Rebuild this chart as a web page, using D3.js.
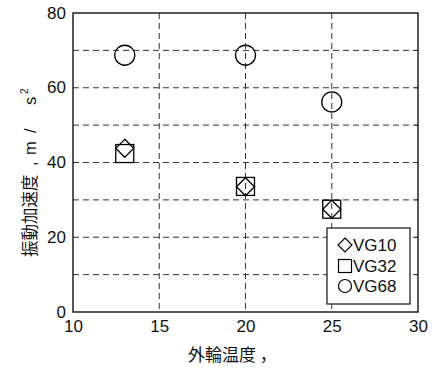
<!DOCTYPE html>
<html><head><meta charset="utf-8">
<script src="https://cdn.jsdelivr.net/npm/d3@7"></script>
<style>body{margin:0;background:#fff}</style>
</head><body>
<svg id="c" width="434" height="369"></svg>
<script>
const temps = [13, 20, 25];
const vg10 = [43.8, 33.5, 27.5];
const vg32 = [42.4, 33.6, 27.5];
const vg68 = [68.7, 68.7, 56.2];
const seriesNames = ["VG10", "VG32", "VG68"];
const xTicks = [10, 15, 20, 25, 30];
const yTicks = [0, 20, 40, 60, 80];
const yGrid = [10, 20, 30, 40, 50, 60, 70];
const xGrid = [15, 20, 25];

const svg = d3.select("#c");
const L = 73, R = 418, T = 13, B = 312;
const x = d3.scaleLinear().domain([10, 30]).range([L, R]);
const y = d3.scaleLinear().domain([0, 80]).range([B, T]);
const font = "'Liberation Sans', Arial, sans-serif";
const cjk = "'Noto Sans CJK JP', 'Liberation Sans', sans-serif";

// grid
svg.append("g").selectAll("line").data(yGrid).join("line")
  .attr("x1", L).attr("x2", R).attr("y1", d => y(d)).attr("y2", d => y(d))
  .attr("stroke", "#333").attr("stroke-width", 1).attr("stroke-dasharray", "6,4");
svg.append("g").selectAll("line").data(xGrid).join("line")
  .attr("y1", T).attr("y2", B).attr("x1", d => x(d)).attr("x2", d => x(d))
  .attr("stroke", "#333").attr("stroke-width", 1).attr("stroke-dasharray", "6,4");

// axes
const ax = svg.append("g").attr("transform", `translate(0,${B})`)
  .call(d3.axisBottom(x).tickValues(xTicks).tickSize(0).tickPadding(8));
const ay = svg.append("g").attr("transform", `translate(${L},0)`)
  .call(d3.axisLeft(y).tickValues(yTicks).tickSize(0).tickPadding(7));
[ax, ay].forEach(g => {
  g.select(".domain").remove();
  g.selectAll("text").attr("font-family", font).attr("font-size", 17).attr("fill", "#111");
});
ay.selectAll("text").attr("dy", "0.3em");
// right-side small inward ticks
svg.append("g").selectAll("line").data(yGrid).join("line")
  .attr("x1", R - 3).attr("x2", R).attr("y1", d => y(d)).attr("y2", d => y(d))
  .attr("stroke", "#333").attr("stroke-width", 1);

// frame
svg.append("rect").attr("x", L).attr("y", T).attr("width", R - L).attr("height", B - T)
  .attr("fill", "none").attr("stroke", "#222").attr("stroke-width", 1.5);

// markers
const diamond = (cx, cy, h) => `M${cx},${cy - h}L${cx + h},${cy}L${cx},${cy + h}L${cx - h},${cy}Z`;
const g = svg.append("g").attr("fill", "none").attr("stroke", "#000").attr("stroke-width", 1.3);
g.selectAll("circle.v68").data(temps).join("circle").attr("class", "v68")
  .attr("cx", d => x(d)).attr("cy", (d, i) => y(vg68[i])).attr("r", 10);
g.selectAll("rect.v32").data(temps).join("rect").attr("class", "v32")
  .attr("x", d => x(d) - 9).attr("y", (d, i) => y(vg32[i]) - 9).attr("width", 18).attr("height", 18);
g.selectAll("path.v10").data(temps).join("path").attr("class", "v10")
  .attr("d", (d, i) => diamond(x(d), y(vg10[i]), 9));

// legend
const lg = svg.append("g");
lg.append("rect").attr("x", 327).attr("y", 228).attr("width", 83).attr("height", 76)
  .attr("fill", "#fff").attr("stroke", "#222").attr("stroke-width", 1.3);
const rows = [245, 266, 286];
const lx = 345;
lg.append("path").attr("d", diamond(lx, rows[0], 7)).attr("fill", "none").attr("stroke", "#000").attr("stroke-width", 1.2);
lg.append("rect").attr("x", lx - 6.5).attr("y", rows[1] - 6.5).attr("width", 13).attr("height", 13).attr("fill", "none").attr("stroke", "#000").attr("stroke-width", 1.2);
lg.append("circle").attr("cx", lx).attr("cy", rows[2]).attr("r", 6.5).attr("fill", "none").attr("stroke", "#000").attr("stroke-width", 1.2);
lg.selectAll("text").data(seriesNames).join("text")
  .attr("x", 353).attr("y", (d, i) => rows[i]).attr("dy", "0.36em")
  .attr("font-family", font).attr("font-size", 17).attr("fill", "#111").text(d => d);

// axis titles
svg.append("text").attr("x", 188).attr("y", 361)
  .attr("font-family", cjk).attr("font-size", 17).attr("fill", "#111").text("外輪温度 ，");
const yt = svg.append("text").attr("transform", "translate(36,257) rotate(-90)")
  .attr("font-family", cjk).attr("font-size", 16.5).attr("fill", "#111");
yt.append("tspan").attr("x", 0).text("振動加速度");
yt.append("tspan").attr("x", 91).attr("font-family", font).text(",");
yt.append("tspan").attr("x", 102).attr("font-family", font).text("m");
yt.append("tspan").attr("x", 124).attr("font-family", font).text("/");
yt.append("tspan").attr("x", 152).attr("font-family", font).text("s");
yt.append("tspan").attr("x", 163).attr("dy", -8).attr("font-family", font).attr("font-size", 10).text("2");
</script>
</body></html>
